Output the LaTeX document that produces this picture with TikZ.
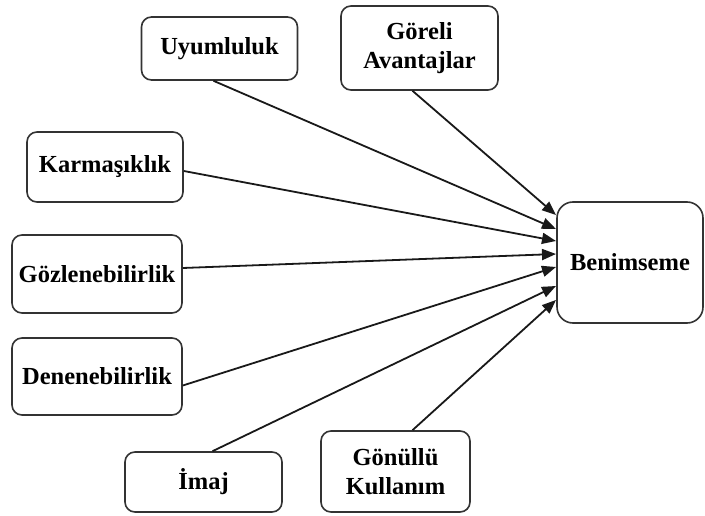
\documentclass[tikz,border=0pt]{standalone}
\usepackage{fontspec}
\setmainfont{Liberation Serif}
\usetikzlibrary{arrows.meta}
\begin{document}
\begin{tikzpicture}[x=1pt,y=-1pt,
  box/.style={draw=black!80, line width=1.6pt, rounded corners=10pt, fill=white,
    align=center, inner sep=0pt, font=\fontsize{24.5}{29}\selectfont\bfseries},
  conn/.style={line width=1.8pt, draw=black!90, -{Triangle[length=14pt,width=11pt]}}]
\useasboundingbox (0,0) rectangle (705,516);
\node[box, minimum width=156pt, minimum height=63pt] (uy) at (219.5,48.5) {Uyumluluk};
\node[box, minimum width=157pt, minimum height=84pt] (gr) at (419.5,48) {Göreli\\Avantajlar};
\node[box, minimum width=156pt, minimum height=70pt] (ka) at (105,167) {Karmaşıklık};
\node[box, minimum width=170pt, minimum height=78pt] (go) at (97,274) {Gözlenebilirlik};
\node[box, minimum width=170pt, minimum height=77pt] (de) at (97,376.5) {Denenebilirlik};
\node[box, minimum width=157pt, minimum height=60pt] (im) at (203.5,482) {İmaj};
\node[box, minimum width=149pt, minimum height=81pt] (gn) at (395.5,471.5) {Gönüllü\\Kullanım};
\node[box, rounded corners=16pt, minimum width=146pt, minimum height=121pt] (be) at (630,262.5) {Benimseme};
\coordinate (e1) at (556,215);
\coordinate (e2) at (556,229);
\coordinate (e3) at (556,241);
\coordinate (e4) at (556,254);
\coordinate (e5) at (556,267);
\coordinate (e6) at (556,286);
\coordinate (e7) at (556,300);
\draw[conn] ([xshift=-7pt]gr.south) -- (e1);
\draw[conn] ([xshift=-6pt]uy.south) -- (e2);
\draw[conn] ([yshift=-4pt]ka.east) -- (e3);
\draw[conn] ([yshift=6pt]go.east) -- (e4);
\draw[conn] ([yshift=-9pt]de.east) -- (e5);
\draw[conn] ([xshift=9pt]im.north) -- (e6);
\draw[conn] ([xshift=17pt]gn.north) -- (e7);
\end{tikzpicture}
\end{document}
